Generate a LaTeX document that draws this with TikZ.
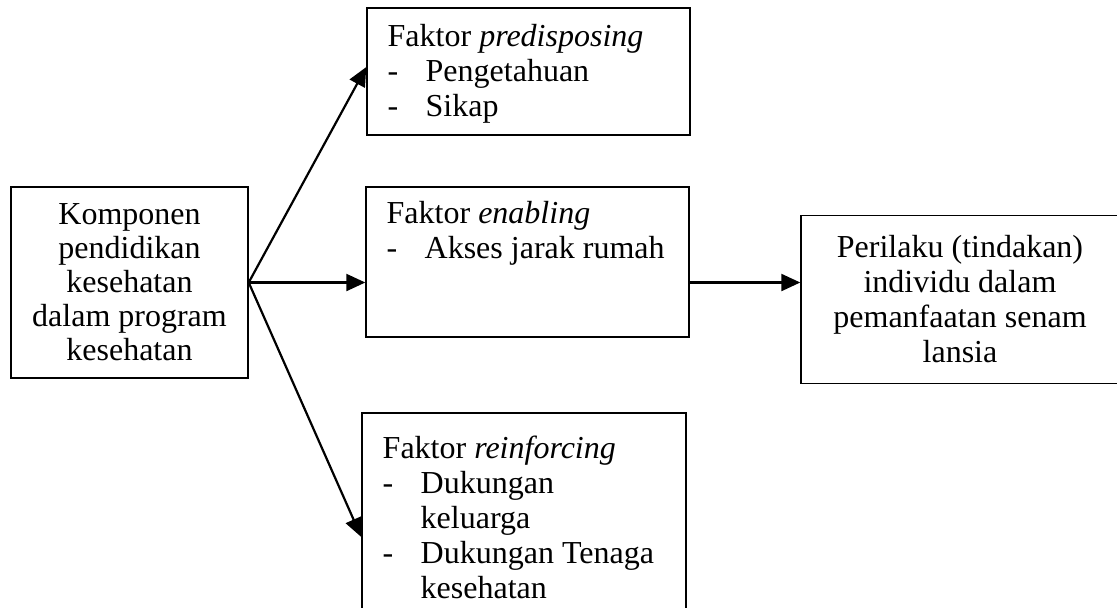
\documentclass[tikz,border=0pt]{standalone}
\usepackage{fontspec}
\setmainfont{Liberation Serif}
\usetikzlibrary{arrows.meta}
\newcommand{\butir}{\makebox[19pt][l]{-}}
\newcommand{\lanjut}{\hspace*{19pt}}
\begin{document}
\begin{tikzpicture}[x=0.5pt, y=-0.5pt, font=\fontsize{16pt}{17.5pt}\selectfont]
    \tikzstyle{kotak} = [draw, rectangle, line width=0.7pt, inner sep=0pt]
    \tikzstyle{isi} = [anchor=north west, align=left, inner sep=0pt]
    \tikzstyle{panah} = [line width=1.1pt, -{Triangle[length=9.5pt, width=8.5pt]}]

    \useasboundingbox (0,0) rectangle (1117,607);

    \node[kotak, minimum width=118.5pt, minimum height=95.5pt, align=center, font=\fontsize{16pt}{17pt}\selectfont] (komponen) at (129.5,282.5) {Komponen\\pendidikan\\kesehatan\\dalam program\\kesehatan};
    \node[kotak, minimum width=161.5pt, minimum height=63.5pt] (predisposing) at (528.5,71.5) {};
    \node[kotak, minimum width=161.5pt, minimum height=75pt] (enabling) at (527.5,262) {};
    \node[kotak, minimum width=162pt, minimum height=124pt] (reinforcing) at (524,537) {};
    \node[kotak, minimum width=159pt, minimum height=84pt, align=center] (perilaku) at (960,299.5) {Perilaku (tindakan)\\individu dalam\\pemanfaatan senam\\lansia};

    % isi kotak faktor
    \node[isi] (predisposing-isi) at ([xshift=10.5pt, yshift=-8.5pt]predisposing.north west) {Faktor \textit{predisposing}\\\butir Pengetahuan\\\butir Sikap};
    \node[isi] (enabling-isi) at ([xshift=10.5pt, yshift=-7.5pt]enabling.north west) {Faktor \textit{enabling}\\\butir Akses jarak rumah};
    \node[isi] (reinforcing-isi) at ([xshift=10.5pt, yshift=-11.5pt]reinforcing.north west) {Faktor \textit{reinforcing}\\\butir Dukungan\\\lanjut keluarga\\\butir Dukungan Tenaga\\\lanjut kesehatan};

    \draw[panah] (komponen.east) -- ([yshift=2.25pt]predisposing.west);
    \draw[panah] (komponen.east) -- (komponen.east -| enabling.west);
    \draw[panah] (komponen.east) -- (reinforcing.west);
    \draw[panah] (komponen.east -| enabling.east) -- (komponen.east -| perilaku.west);
\end{tikzpicture}
\end{document}
